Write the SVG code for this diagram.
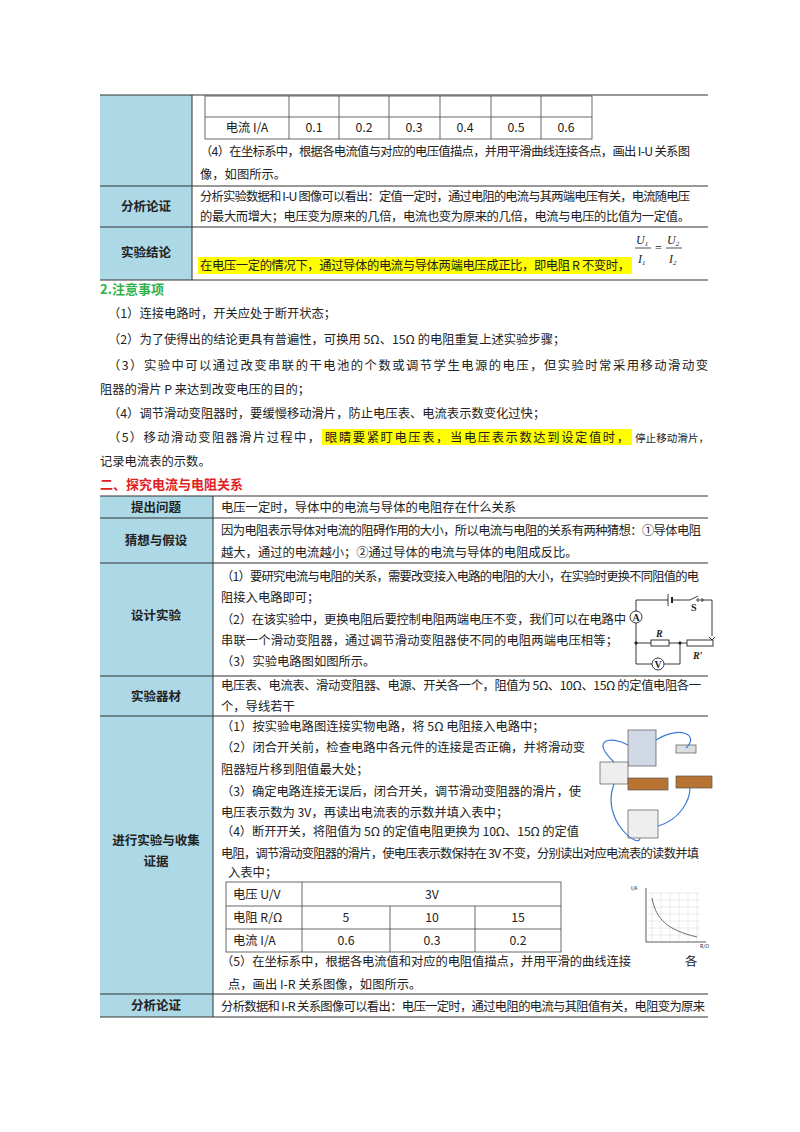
<svg xmlns="http://www.w3.org/2000/svg" width="800" height="1132" viewBox="0 0 800 1132">
<style>
text{font-family:"Noto Sans CJK SC","Liberation Serif",sans-serif;font-size:12.3px;fill:#222}
.lb{font-weight:bold;font-size:12.5px;text-anchor:middle}
.c{text-anchor:middle}
.g{fill:#add8e6}
.b{fill:none;stroke:#333;stroke-width:1}
.t{fill:none;stroke:#444;stroke-width:0.8}
.w{fill:none;stroke:#222;stroke-width:0.9}
</style>
<rect width="800" height="1132" fill="#fff"/>
<!-- top table -->
<g id="table1">
<rect class="g" x="100" y="95" width="92" height="185"/>
<line class="b" x1="100" y1="95" x2="708" y2="95" stroke-width="1.5"/>
<line class="b" x1="100" y1="186" x2="708" y2="186"/>
<line class="b" x1="100" y1="227" x2="708" y2="227"/>
<line class="b" x1="100" y1="280" x2="708" y2="280" stroke-width="1.5"/>
<line class="b" x1="192" y1="95" x2="192" y2="280"/>
<g id="inner1" class="t">
<rect x="205" y="96" width="387" height="43"/>
<line x1="205" y1="117" x2="592" y2="117"/>
<line x1="289" y1="96" x2="289" y2="139"/><line x1="339" y1="96" x2="339" y2="139"/>
<line x1="389" y1="96" x2="389" y2="139"/><line x1="440" y1="96" x2="440" y2="139"/>
<line x1="491" y1="96" x2="491" y2="139"/><line x1="541" y1="96" x2="541" y2="139"/>
</g>
<text x="247" y="132" class="c">电流 I/A</text>
<text x="314" y="132" class="c">0.1</text><text x="364" y="132" class="c">0.2</text>
<text x="414" y="132" class="c">0.3</text><text x="465" y="132" class="c">0.4</text>
<text x="516" y="132" class="c">0.5</text><text x="566" y="132" class="c">0.6</text>
<text x="200" y="156" textLength="490">（4）在坐标系中，根据各电流值与对应的电压值描点，并用平滑曲线连接各点，画出 I-U 关系图</text>
<text x="200" y="179">像，如图所示。</text>
<text x="146" y="211" class="lb">分析论证</text>
<text x="200" y="201" textLength="490">分析实验数据和 I-U 图像可以看出：定值一定时，通过电阻的电流与其两端电压有关，电流随电压</text>
<text x="200" y="221" textLength="490">的最大而增大；电压变为原来的几倍，电流也变为原来的几倍，电流与电压的比值为一定值。</text>
<text x="146" y="257" class="lb">实验结论</text>
<rect x="198" y="257" width="434" height="17" fill="#ffff00"/>
<text x="200" y="270" textLength="430">在电压一定的情况下，通过导体的电流与导体两端电压成正比，即电阻 R 不变时，</text>
<text x="636" y="244" style="font-family:'Liberation Serif';font-style:italic;font-size:12px">U<tspan font-size="7" dy="2">1</tspan></text>
<line x1="635" y1="248" x2="651" y2="248" stroke="#222" stroke-width="0.8"/>
<text x="638" y="263" style="font-family:'Liberation Serif';font-style:italic;font-size:12px">I<tspan font-size="7" dy="2">1</tspan></text>
<text x="655" y="252" style="font-family:'Liberation Serif';font-size:12px">=</text>
<text x="667" y="244" style="font-family:'Liberation Serif';font-style:italic;font-size:12px">U<tspan font-size="7" dy="2">2</tspan></text>
<line x1="666" y1="248" x2="682" y2="248" stroke="#222" stroke-width="0.8"/>
<text x="669" y="263" style="font-family:'Liberation Serif';font-style:italic;font-size:12px">I<tspan font-size="7" dy="2">2</tspan></text>
</g>
<!-- notes -->
<g id="notes">
<text x="100" y="294" style="fill:#2db34a;font-weight:bold;font-size:13px">2.注意事项</text>
<text x="108" y="318">（1）连接电路时，开关应处于断开状态；</text>
<text x="108" y="344">（2）为了使得出的结论更具有普遍性，可换用 5Ω、15Ω 的电阻重复上述实验步骤；</text>
<text x="108" y="370" textLength="600">（3）实验中可以通过改变串联的干电池的个数或调节学生电源的电压，但实验时常采用移动滑动变</text>
<text x="100" y="394">阻器的滑片 P 来达到改变电压的目的；</text>
<text x="108" y="418">（4）调节滑动变阻器时，要缓慢移动滑片，防止电压表、电流表示数变化过快；</text>
<rect x="322" y="429" width="310" height="16" fill="#ffff00"/>
<text x="108" y="442" textLength="212">（5）移动滑动变阻器滑片过程中，</text>
<text x="325" y="442" textLength="304">眼睛要紧盯电压表，当电压表示数达到设定值时，</text>
<text x="635" y="442" style="font-size:10.6px">停止移动滑片，</text>
<text x="100" y="466">记录电流表的示数。</text>
<text x="100" y="489" style="fill:#e02020;font-weight:bold;font-size:13px">二、探究电流与电阻关系</text>
</g>
<!-- second table -->
<g id="table2">
<rect class="g" x="100" y="496" width="113" height="521"/>
<line class="b" x1="100" y1="496" x2="708" y2="496" stroke-width="1.5"/>
<line class="b" x1="100" y1="518" x2="708" y2="518"/>
<line class="b" x1="100" y1="563" x2="708" y2="563"/>
<line class="b" x1="100" y1="676" x2="708" y2="676"/>
<line class="b" x1="100" y1="716" x2="708" y2="716"/>
<line class="b" x1="100" y1="994" x2="708" y2="994"/>
<line class="b" x1="100" y1="1017" x2="708" y2="1017" stroke-width="1.5"/>
<line class="b" x1="213" y1="496" x2="213" y2="1017"/>
<text x="156" y="512" class="lb">提出问题</text>
<text x="221" y="512">电压一定时，导体中的电流与导体的电阻存在什么关系</text>
<text x="156" y="545" class="lb">猜想与假设</text>
<text x="221" y="535" textLength="480">因为电阻表示导体对电流的阻碍作用的大小，所以电流与电阻的关系有两种猜想：①导体电阻</text>
<text x="221" y="557">越大，通过的电流越小；②通过导体的电流与导体的电阻成反比。</text>
<text x="156" y="620" class="lb">设计实验</text>
<text x="221" y="581" textLength="478">（1）要研究电流与电阻的关系，需要改变接入电路的电阻的大小，在实验时更换不同阻值的电</text>
<text x="221" y="602">阻接入电路即可；</text>
<text x="221" y="624" textLength="405">（2）在该实验中，更换电阻后要控制电阻两端电压不变，我们可以在电路中</text>
<text x="221" y="645" textLength="397">串联一个滑动变阻器，通过调节滑动变阻器使不同的电阻两端电压相等；</text>
<text x="221" y="666">（3）实验电路图如图所示。</text>
<text x="156" y="701" class="lb">实验器材</text>
<text x="221" y="690" textLength="480">电压表、电流表、滑动变阻器、电源、开关各一个，阻值为 5Ω、10Ω、15Ω 的定值电阻各一</text>
<text x="221" y="711">个，导线若干</text>
<text x="156" y="845" class="lb">进行实验与收集</text>
<text x="156" y="866" class="lb">证据</text>
<text x="221" y="731">（1）按实验电路图连接实物电路，将 5Ω 电阻接入电路中；</text>
<text x="221" y="752" textLength="364">（2）闭合开关前，检查电路中各元件的连接是否正确，并将滑动变</text>
<text x="221" y="774">阻器短片移到阻值最大处；</text>
<text x="221" y="796" textLength="360">（3）确定电路连接无误后，闭合开关，调节滑动变阻器的滑片，使</text>
<text x="221" y="817">电压表示数为 3V，再读出电流表的示数并填入表中；</text>
<text x="221" y="836" textLength="358">（4）断开开关，将阻值为 5Ω 的定值电阻更换为 10Ω、15Ω 的定值</text>
<text x="221" y="858" textLength="478">电阻，调节滑动变阻器的滑片，使电压表示数保持在 3V 不变，分别读出对应电流表的读数并填</text>
<text x="228" y="877">入表中；</text>
<g id="inner2" class="t">
<rect x="226" y="882" width="335" height="70"/>
<line x1="226" y1="906" x2="561" y2="906"/>
<line x1="226" y1="929" x2="561" y2="929"/>
<line x1="302" y1="882" x2="302" y2="952"/>
<line x1="390" y1="906" x2="390" y2="952"/>
<line x1="475" y1="906" x2="475" y2="952"/>
</g>
<text x="233" y="899">电压 U/V</text><text x="432" y="899" class="c">3V</text>
<text x="233" y="922">电阻 R/Ω</text><text x="346" y="922" class="c">5</text><text x="432" y="922" class="c">10</text><text x="518" y="922" class="c">15</text>
<text x="233" y="945">电流 I/A</text><text x="346" y="945" class="c">0.6</text><text x="432" y="945" class="c">0.3</text><text x="518" y="945" class="c">0.2</text>
<text x="221" y="966" textLength="410">（5）在坐标系中，根据各电流值和对应的电阻值描点，并用平滑的曲线连接</text>
<text x="685" y="966">各</text>
<text x="228" y="989">点，画出 I-R 关系图像，如图所示。</text>
<text x="156" y="1010" class="lb">分析论证</text>
<text x="221" y="1011" textLength="484">分析数据和 I-R 关系图像可以看出：电压一定时，通过电阻的电流与其阻值有关，电阻变为原来</text>
</g>
<!-- circuit -->
<g id="circuit" class="w">
<path d="M636,611 V600 H668 M672,600 H690 L698,596 M702,600 H712 V636"/>
<line x1="668" y1="594" x2="668" y2="606"/><line x1="672" y1="597" x2="672" y2="603" stroke-width="2"/>
<circle cx="698" cy="600" r="1.2"/><circle cx="702" cy="600" r="1.2"/>
<circle cx="636" cy="617" r="6"/>
<path d="M636,623 V643 H651 M669,643 H687"/>
<rect x="651" y="640" width="18" height="6"/>
<rect x="687" y="640" width="26" height="6"/>
<path d="M709,637 L712,640 L715,637"/>
<path d="M636,643 V664 H652 M664,664 H680 V643"/>
<circle cx="658" cy="664" r="6"/>
<circle cx="636" cy="643" r="1.2" fill="#222"/><circle cx="680" cy="643" r="1.2" fill="#222"/>
</g>
<g>
<text x="636" y="621" class="c" style="font-family:'Liberation Serif';font-size:10px;font-weight:bold">A</text>
<text x="658" y="668" class="c" style="font-family:'Liberation Serif';font-size:10px;font-weight:bold">V</text>
<text x="691" y="611" style="font-family:'Liberation Serif';font-size:10px;font-weight:bold">S</text>
<text x="656" y="637" style="font-family:'Liberation Serif';font-size:10px;font-weight:bold;font-style:italic">R</text>
<text x="693" y="659" style="font-family:'Liberation Serif';font-size:10px;font-weight:bold;font-style:italic">R′</text>
</g>
<!-- apparatus picture -->
<g id="apparatus">
<rect x="628" y="730" width="28" height="36" fill="#cfd8e4" stroke="#555" stroke-width="0.7"/>
<rect x="600" y="762" width="28" height="22" fill="#eee" stroke="#555" stroke-width="0.7"/>
<rect x="628" y="778" width="40" height="12" fill="#b87333" stroke="#555" stroke-width="0.7"/>
<rect x="676" y="776" width="36" height="12" fill="#b87333" stroke="#555" stroke-width="0.7"/>
<rect x="676" y="745" width="20" height="8" fill="#ddd" stroke="#555" stroke-width="0.7"/>
<rect x="628" y="810" width="30" height="28" fill="#eee" stroke="#555" stroke-width="0.7"/>
<path d="M656,740 C680,725 700,735 686,748 M614,762 C590,740 610,735 628,745 M614,784 C600,820 640,850 640,838 M658,826 C680,820 690,800 690,788" fill="none" stroke="#3a7bd5" stroke-width="1.2"/>
</g>
<!-- I-R graph -->
<g id="graph">
<g stroke="#ccc" stroke-width="0.4">
<path d="M648,893 H700 M648,900 H700 M648,907 H700 M648,914 H700 M648,921 H700 M648,928 H700 M648,935 H700"/>
<path d="M652,893 V942 M661,893 V942 M670,893 V942 M679,893 V942 M688,893 V942 M697,893 V942"/>
</g>
<path d="M646,888 V942 H706" fill="none" stroke="#333" stroke-width="0.8"/>
<path d="M652,898 C656,920 668,930 697,937" fill="none" stroke="#333" stroke-width="0.7"/>
<text x="631" y="890" style="font-size:5px">I/A</text>
<text x="700" y="948" style="font-size:5px">R/Ω</text>
</g>
</svg>
